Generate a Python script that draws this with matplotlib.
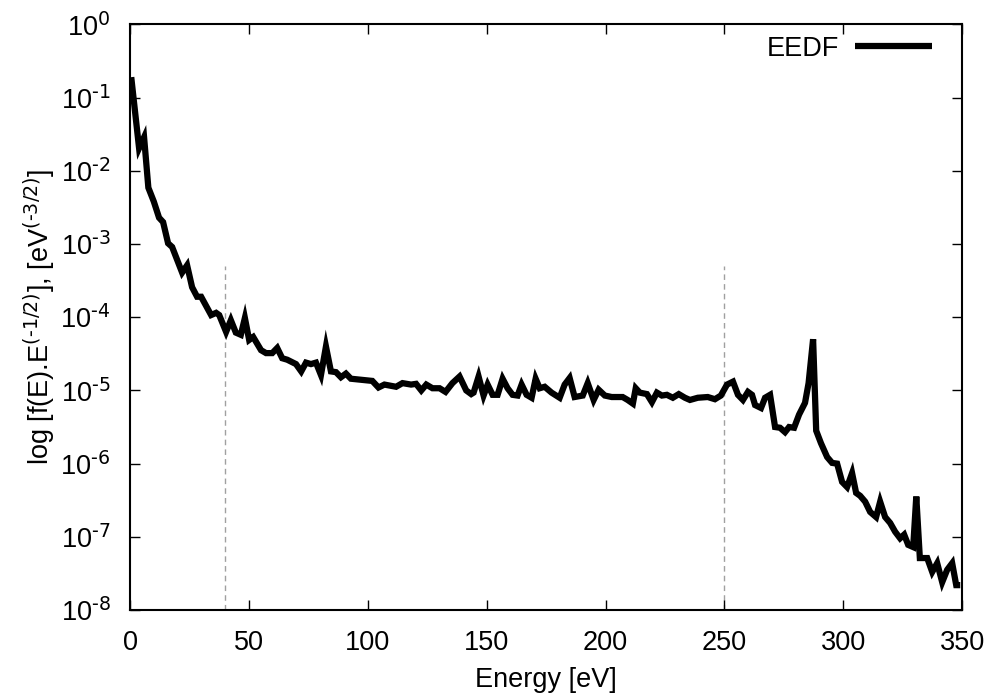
import numpy as np
import matplotlib
matplotlib.use("Agg")
import matplotlib.pyplot as plt
from matplotlib.ticker import FixedLocator, FixedFormatter

# ---- data ----
energy = [0.5, 3.8, 5.9, 7.7, 10.0, 12.2, 13.9, 16.0, 17.7, 21.9, 24.0, 26.1, 28.2, 29.9,
          34.1, 36.2, 37.5, 40.4, 42.4, 44.5, 46.6, 48.3, 50.1, 51.8, 55.1, 57.2, 59.8, 61.9,
          64.0, 66.1, 69.8, 72.0, 74.0, 76.1, 78.2, 80.3, 82.4, 84.5, 86.6, 88.7, 90.8, 92.9,
          101.9, 104.5, 107.0, 111.9, 114.6, 118.2, 120.3, 122.5, 124.6, 127.2, 130.2, 132.7,
          135.6, 138.6, 141.4, 143.5, 144.5, 146.6, 148.7, 150.4, 152.5, 154.6, 156.7, 158.8,
          160.9, 163.0, 164.7, 166.8, 168.9, 170.6, 172.3, 174.4, 177.3, 180.7, 182.8, 184.9,
          187.0, 190.4, 192.5, 195.0, 197.1, 199.7, 202.6, 207.2, 209.3, 211.5, 212.7, 214.4,
          217.4, 219.5, 221.6, 223.7, 225.8, 228.3, 230.8, 233.4, 235.5, 238.8, 243.0, 246.0,
          248.5, 251.1, 253.6, 255.7, 257.8, 259.9, 261.6, 262.9, 265.4, 267.1, 269.2, 271.3,
          273.4, 275.5, 277.2, 279.3, 281.4, 283.9, 285.4, 287.3, 288.6, 290.6, 293.2, 295.3,
          297.4, 299.5, 301.6, 303.7, 305.4, 307.1, 309.2, 311.3, 313.8, 315.5, 317.6, 319.7,
          321.8, 323.9, 325.6, 327.3, 329.4, 330.7, 332.2, 335.3, 337.4, 339.5, 341.6, 343.7,
          345.8, 347.5, 349.2]

log10_eedf = [-0.72, -1.69, -1.54, -2.23, -2.42, -2.64, -2.70, -2.99, -3.04, -3.39, -3.29, -3.59,
              -3.72, -3.72, -3.97, -3.94, -3.97, -4.20, -4.04, -4.21, -4.24, -4.01, -4.31, -4.27,
              -4.45, -4.49, -4.49, -4.42, -4.56, -4.58, -4.64, -4.74, -4.62, -4.64, -4.62, -4.79,
              -4.40, -4.74, -4.75, -4.82, -4.77, -4.84,
              -4.87, -4.96, -4.92, -4.95, -4.90, -4.92, -4.91, -5.00, -4.92, -4.97, -4.97, -5.02,
              -4.90, -4.81, -5.00, -5.05, -5.03, -4.81, -5.07, -4.92, -5.06, -5.06, -4.84, -4.97,
              -5.06, -5.07, -4.92, -5.06, -5.10, -4.84, -4.97, -4.95, -5.03, -5.10, -4.92, -4.83,
              -5.09, -5.07, -4.90, -5.13, -4.99, -5.07, -5.09, -5.09, -5.13, -5.18, -4.97, -5.03,
              -5.05, -5.16, -5.03, -5.07, -5.06, -5.10, -5.05, -5.10, -5.13, -5.10, -5.09, -5.12,
              -5.07, -4.92, -4.88, -5.06, -5.13, -5.02, -5.06, -5.20, -5.24, -5.10, -5.06, -5.50,
              -5.51, -5.57, -5.50, -5.51, -5.33, -5.17, -4.90, -4.30, -5.55, -5.72, -5.91, -5.99,
              -6.00, -6.25, -6.32, -6.13, -6.40, -6.44, -6.52, -6.66, -6.73, -6.52, -6.73, -6.81,
              -6.93, -7.02, -6.97, -7.11, -7.14, -6.45, -7.29, -7.29, -7.48, -7.36, -7.62, -7.45,
              -7.36, -7.66, -7.66]

eedf = 10.0 ** np.array(log10_eedf)

marker_energies = [40, 250]
marker_top = 5e-4

x_ticks = [0, 50, 100, 150, 200, 250, 300, 350]
y_exponents = [0, -1, -2, -3, -4, -5, -6, -7, -8]

# ---- style ----
plt.rcParams['font.family'] = ['Liberation Sans', 'DejaVu Sans']
plt.rcParams['mathtext.default'] = 'regular'
plt.rcParams['axes.unicode_minus'] = False
FS = 19.5

fig = plt.figure(figsize=(9.95, 6.99), dpi=100)
ax = fig.add_axes([0.1307, 0.1273, 0.8363, 0.8377])

for e in marker_energies:
    ax.plot([e, e], [1e-8, marker_top], color='#a0a0a0', lw=1.0, ls=(0, (4, 3)), zorder=1)

ax.plot(energy, eedf, color='black', lw=4.5, solid_joinstyle='miter',
        solid_capstyle='butt', label='EEDF', zorder=3)

ax.set_yscale('log')
ax.set_xlim(0, 350)
ax.set_ylim(1e-8, 1e0)

ax.xaxis.set_major_locator(FixedLocator(x_ticks))
ax.set_xticklabels([str(t) for t in x_ticks])
ax.yaxis.set_major_locator(FixedLocator([10.0 ** k for k in y_exponents]))
ax.yaxis.set_major_formatter(FixedFormatter([r'$10^{\text{%d}}$' % k for k in y_exponents]))
ax.yaxis.set_minor_locator(FixedLocator([]))

ax.tick_params(which='major', direction='in', length=7, width=1.0, top=True, right=True,
               labelsize=FS, colors='black')
ax.tick_params(axis='x', pad=14.5)
ax.tick_params(axis='y', pad=14)
for s in ax.spines.values():
    s.set_linewidth(1.5)

ax.set_xlabel('Energy [eV]', fontsize=FS, labelpad=8)
ax.set_ylabel(r'log [f(E).E$^{\text{(-1/2)}}$], [eV$^{\text{(-3/2)}}$]', fontsize=FS, labelpad=2)

leg = ax.legend(loc='upper right', frameon=False, fontsize=FS, markerfirst=False,
                handlelength=2.85, handletextpad=0.6, borderaxespad=0.0,
                bbox_to_anchor=(0.977, 0.999))

fig.savefig('out.png', dpi=100)
